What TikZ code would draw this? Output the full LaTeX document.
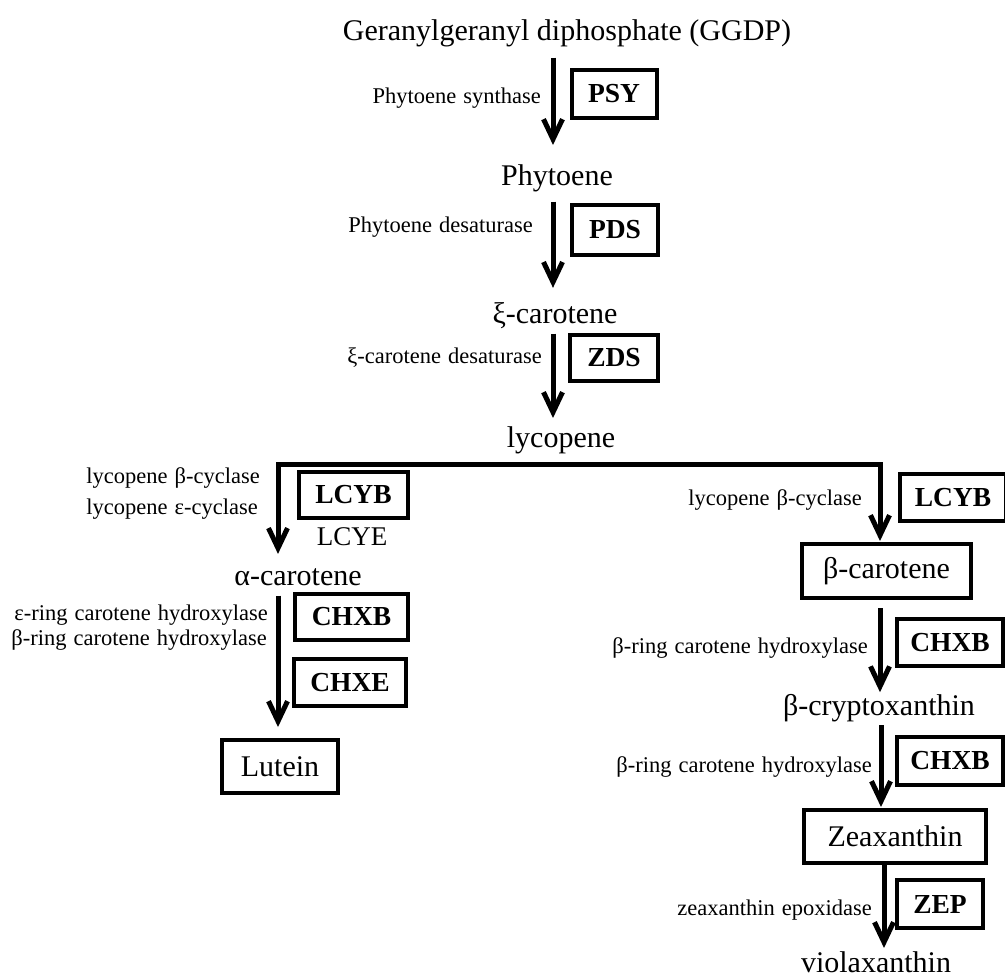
\documentclass[tikz,border=0pt]{standalone}
\usepackage{fontspec}
\setmainfont{Liberation Serif}
\usetikzlibrary{arrows.meta}
\newcommand{\enzfont}{\fontsize{22.5}{26}\selectfont\spaceskip=7pt\relax}
\tikzset{
  compound/.style={inner sep=0pt, anchor=base, font=\fontsize{30}{36}\selectfont},
  compbox/.style={draw, line width=4pt, inner sep=0pt, font=\fontsize{30}{36}\selectfont},
  enzbox/.style={draw, line width=4pt, inner sep=0pt, font=\fontsize{27.5}{32}\selectfont\bfseries},
  enzname/.style={inner sep=0pt, anchor=base east, font=\enzfont},
  flow/.style={line width=5pt, -{Straight Barb[length=20pt,width=19pt]}},
}

\begin{document}
\begin{tikzpicture}[x=1pt,y=-1pt]
    \useasboundingbox (0,0) rectangle (1005,978);

    % === Main trunk: GGDP -> lycopene ===
    \node[compound] (ggdp) at (567,40) {Geranylgeranyl diphosphate (GGDP)};
    \node[compound] (phy) at (557,185) {Phytoene};
    \node[compound] (zcar) at (555,323) {ξ-carotene};
    \node[compound] (lyc) at (561,447) {lycopene};

    % enzymes
    \node[enzname] (psyname) at (541,103) {Phytoene synthase};
    \node[enzbox, minimum width=85pt, minimum height=48pt] (psy) at (614,94) {PSY};
    \node[enzname] (pdsname) at (533,232) {Phytoene desaturase};
    \node[enzbox, minimum width=86pt, minimum height=50pt] (pds) at (615,230) {PDS};
    \node[enzname] (zdsname) at (542,363) {ξ-carotene desaturase};
    \node[enzbox, minimum width=88pt, minimum height=46pt] (zds) at (614,358) {ZDS};

    % arrows
    \coordinate (trunk) at (553,0);
    \draw[flow, shorten <=11pt, shorten >=19pt] (ggdp.south -| trunk) -- (phy.north -| trunk);
    \draw[flow, shorten <=10pt, shorten >=14pt] (phy.south -| trunk) -- (zcar.north -| trunk);
    \draw[flow, shorten <=5pt, shorten >=8pt] (zcar.south -| trunk) -- (lyc.north -| trunk);

    % === Left: alpha branch ===
    \node[compound] (acar) at (298,585) {α-carotene};
    \node[compbox, minimum width=116pt, minimum height=53pt] (lut) at (280,766.5) {Lutein};

    \node[enzname] (lcybname) at (260,483) {lycopene β-cyclase};
    \node[enzname] (lcyename) at (258,514) {lycopene ε-cyclase};
    \node[enzbox, minimum width=109pt, minimum height=46pt] (lcyb) at (353.5,495) {LCYB};
    \node[compound, font=\fontsize{27}{31}\selectfont] (lcye) at (352,545) {LCYE};

    \node[enzname] (chxename) at (268,620) {ε-ring carotene hydroxylase};
    \node[enzname] (chxbname) at (267,645) {β-ring carotene hydroxylase};
    \node[enzbox, minimum width=113pt, minimum height=46pt] (chxb) at (351.5,617) {CHXB};
    \node[enzbox, minimum width=112pt, minimum height=47pt] (chxe) at (350,682.5) {CHXE};

    % === Right: beta branch ===
    \node[compbox, minimum width=169pt, minimum height=54pt] (bcar) at (886.5,571) {β-carotene};
    \node[compound] (bcry) at (879,715) {β-cryptoxanthin};
    \node[compbox, minimum width=182pt, minimum height=53pt] (zea) at (895,836.5) {Zeaxanthin};
    \node[compound] (viol) at (876,972) {violaxanthin};

    \node[enzname] (lcybrname) at (862,505) {lycopene β-cyclase};
    \node[enzbox, minimum width=106pt, minimum height=47pt] (lcybr) at (953,497.5) {LCYB};
    \node[enzname] (chxbaname) at (868,653) {β-ring carotene hydroxylase};
    \node[enzbox, minimum width=106pt, minimum height=47pt] (chxba) at (950,642.5) {CHXB};
    \node[enzname] (chxbbname) at (872,772) {β-ring carotene hydroxylase};
    \node[enzbox, minimum width=106pt, minimum height=48pt] (chxbb) at (950,761) {CHXB};
    \node[enzname] (zepname) at (872,915) {zeaxanthin epoxidase};
    \node[enzbox, minimum width=86pt, minimum height=48pt] (zep) at (940,904) {ZEP};

    % split at lycopene
    \coordinate (lbr) at (278,464);
    \coordinate (rbr) at (880,464);
    \coordinate (rax) at (881,0);
    \coordinate (zax) at (884,0);
    \draw[flow, shorten >=14pt] (rbr) -- (lbr) -- (lbr |- acar.north);
    \draw[flow, shorten >=1pt] (lbr) -- (rbr) -- (rbr |- bcar.north);

    \draw[flow, shorten <=10pt, shorten >=11pt] (acar.south -| lbr) -- (lut.north -| lbr);
    \draw[flow, shorten <=8pt, shorten >=1.5pt] (bcar.south -| rbr) -- (bcry.north -| rbr);
    \draw[flow, shorten <=3.5pt, shorten >=1pt] (bcry.south -| rax) -- (zea.north -| rax);
    \draw[flow, shorten >=3pt] (zea.south -| zax) -- (viol.north -| zax);
\end{tikzpicture}
\end{document}
